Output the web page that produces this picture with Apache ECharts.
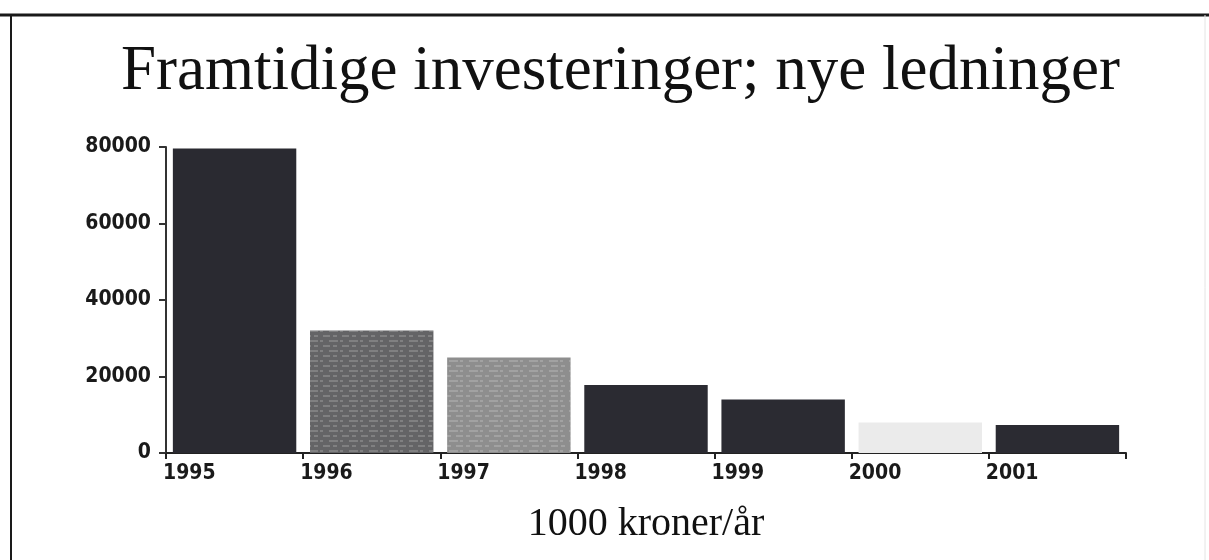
<!DOCTYPE html>
<html>
<head>
<meta charset="utf-8">
<script src="https://cdn.jsdelivr.net/npm/echarts@6/dist/echarts.min.js"></script>
<style>html,body{margin:0;padding:0;background:#fff;}#c{width:1209px;height:560px;}</style>
</head>
<body>
<div id="c"></div>
<script>
const categories = ['1995', '1996', '1997', '1998', '1999', '2000', '2001'];
const values = [79600, 32000, 25000, 17800, 14000, 8000, 7300];
const barColors = ['#2a2a31', '#646466', '#8e8e8e', '#2b2b32', '#2b2b32', '#ebebeb', '#2b2b32'];
const yTicks = [0, 20000, 40000, 60000, 80000];
const titleText = 'Framtidige investeringer; nye ledninger';
const xTitle = '1000 kroner/år';

const labelFont = '"DejaVu Sans Condensed", "DejaVu Sans", sans-serif';
const streak = {symbol: 'rect', symbolSize: 1, dashArrayX: [[7, 3, 4, 5], [3, 6, 9, 2]], dashArrayY: [2, 3], rotation: 0, color: 'rgba(255,255,255,0.18)'};
const chart = echarts.init(document.getElementById('c'), null, {renderer: 'canvas'});
chart.setOption({
  backgroundColor: '#fff',
  animation: false,
  title: {
    text: titleText,
    left: 116,
    top: 36,
    textStyle: {fontFamily: 'Liberation Serif', fontSize: 63, fontWeight: 'normal', color: '#111'}
  },
  graphic: [
    {type: 'line', silent: true, shape: {x1: 0, y1: 15, x2: 1209, y2: 15}, style: {stroke: '#1a1a1a', lineWidth: 3}},
    {type: 'line', silent: true, shape: {x1: 11, y1: 15, x2: 11, y2: 560}, style: {stroke: '#1a1a1a', lineWidth: 2}},
    {type: 'line', silent: true, shape: {x1: 1205, y1: 15, x2: 1205, y2: 560}, style: {stroke: '#e4e4e4', lineWidth: 1}}
  ],
  grid: {left: 166, right: 83, top: 147, bottom: 107},
  xAxis: {
    type: 'category',
    data: categories,
    name: xTitle,
    nameLocation: 'middle',
    nameGap: 51,
    nameTextStyle: {fontFamily: 'Liberation Serif', fontSize: 40, color: '#111'},
    axisLine: {lineStyle: {color: '#222', width: 2}},
    axisTick: {show: true, length: 6, lineStyle: {color: '#222', width: 2}},
    axisLabel: {
      fontFamily: labelFont, fontWeight: 'bold condensed', fontSize: 21, color: '#1a1a1a',
      margin: 10, align: 'right', padding: [0, 19, 0, 0]
    }
  },
  yAxis: {
    type: 'value',
    min: yTicks[0],
    max: yTicks[yTicks.length - 1],
    interval: 20000,
    splitLine: {show: false},
    axisLine: {show: true, lineStyle: {color: '#333', width: 2}},
    axisTick: {show: true, length: 7, lineStyle: {color: '#333', width: 2}},
    axisLabel: {fontFamily: labelFont, fontWeight: 'bold condensed', fontSize: 21, color: '#1a1a1a', margin: 15,
      formatter: v => String(v)}
  },
  series: [{
    type: 'bar',
    data: values.map((v, i) => ({
      value: v,
      itemStyle: {color: barColors[i], decal: (i === 1 || i === 2) ? streak : null}
    })),
    barCategoryGap: '10%'
  }],
  aria: {enabled: false, decal: {show: true}}
});
</script>
</body>
</html>
